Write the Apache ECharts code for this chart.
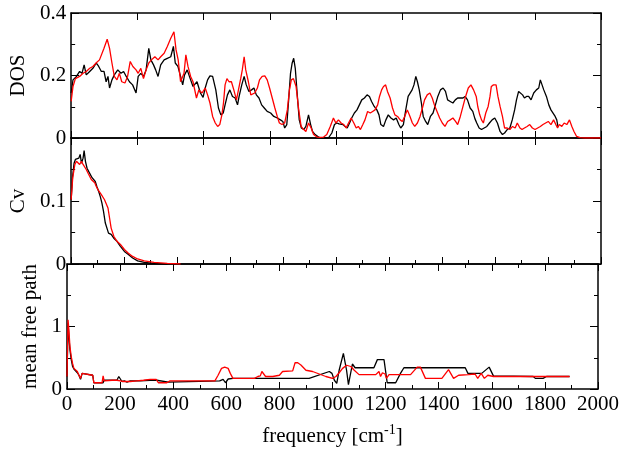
<!DOCTYPE html>
<html><head><meta charset="utf-8">
<script src="https://cdn.jsdelivr.net/npm/echarts@6/dist/echarts.min.js"></script>
<style>html,body{margin:0;padding:0;background:#fff}#c{width:622px;height:449px}</style>
</head><body><div id="c"></div>
<script>
// ---- data (frequency [cm^-1], value) ----
var dosBlack = [[0,0.144],[7,0.186],[20,0.197],[32,0.213],[41,0.207],[49,0.234],[57,0.202],[70,0.213],[82,0.223],[95,0.24],[104,0.229],[114,0.213],[124,0.213],[132,0.18],[139,0.197],[145,0.16],[154,0.186],[163,0.202],[176,0.218],[188,0.207],[198,0.213],[208,0.197],[220,0.18],[232,0.17],[245,0.144],[253,0.197],[263,0.207],[273,0.197],[283,0.218],[293,0.287],[301,0.25],[311,0.234],[319,0.218],[328,0.197],[338,0.234],[351,0.25],[363,0.255],[376,0.26],[386,0.293],[393,0.24],[403,0.229],[413,0.197],[421,0.17],[428,0.202],[438,0.218],[451,0.186],[460,0.165],[475,0.18],[488,0.144],[498,0.13],[506,0.16],[515,0.186],[524,0.199],[534,0.197],[540,0.199],[546,0.154],[556,0.096],[565,0.074],[574,0.08],[581,0.106],[590,0.138],[599,0.154],[609,0.133],[619,0.128],[628,0.106],[634,0.133],[644,0.17],[653,0.197],[661,0.17],[671,0.149],[681,0.154],[690,0.16],[699,0.138],[709,0.128],[719,0.106],[729,0.096],[740,0.085],[753,0.08],[765,0.069],[778,0.064],[790,0.058],[799,0.053],[806,0.032],[814,0.043],[821,0.122],[828,0.207],[834,0.239],[840,0.255],[846,0.223],[854,0.133],[861,0.058],[869,0.032],[878,0.027],[886,0.037],[896,0.074],[904,0.043],[911,0.021],[921,0.011],[934,0.003],[946,0],[959,0],[971,0],[984,0.016],[994,0.043],[1003,0.048],[1011,0.045],[1017,0.048],[1026,0.043],[1034,0.037],[1042,0.032],[1051,0.048],[1059,0.064],[1069,0.08],[1079,0.09],[1088,0.106],[1097,0.122],[1107,0.128],[1117,0.138],[1126,0.133],[1134,0.117],[1144,0.101],[1154,0.09],[1162,0.074],[1169,0.043],[1179,0.037],[1188,0.058],[1197,0.074],[1207,0.064],[1217,0.058],[1227,0.064],[1237,0.043],[1244,0.032],[1254,0.043],[1263,0.09],[1272,0.133],[1279,0.128],[1287,0.154],[1294,0.17],[1301,0.197],[1307,0.18],[1314,0.154],[1322,0.112],[1329,0.069],[1338,0.053],[1346,0.043],[1356,0.069],[1366,0.08],[1375,0.106],[1384,0.133],[1394,0.154],[1404,0.16],[1413,0.149],[1421,0.122],[1431,0.117],[1441,0.112],[1450,0.122],[1459,0.128],[1469,0.128],[1479,0.128],[1487,0.133],[1496,0.122],[1506,0.096],[1516,0.085],[1524,0.062],[1531,0.048],[1540,0.032],[1549,0.027],[1559,0.032],[1569,0.037],[1579,0.048],[1589,0.058],[1599,0.064],[1609,0.048],[1619,0.021],[1628,0.011],[1636,0.016],[1646,0.027],[1656,0.032],[1665,0.058],[1674,0.09],[1681,0.122],[1689,0.149],[1696,0.149],[1704,0.138],[1711,0.128],[1719,0.133],[1727,0.133],[1736,0.122],[1746,0.144],[1756,0.154],[1765,0.16],[1771,0.186],[1777,0.181],[1784,0.154],[1794,0.133],[1803,0.106],[1811,0.09],[1818,0.085],[1827,0.069],[1833,0.058],[1838,0.035]];
var dosRed = [[0,0.117],[7,0.165],[16,0.19],[32,0.197],[45,0.207],[57,0.213],[70,0.223],[82,0.229],[95,0.241],[107,0.25],[114,0.245],[124,0.287],[136,0.316],[145,0.287],[154,0.24],[163,0.197],[173,0.186],[182,0.207],[191,0.18],[203,0.176],[213,0.197],[223,0.245],[233,0.229],[245,0.218],[253,0.207],[263,0.223],[273,0.19],[283,0.218],[293,0.24],[303,0.25],[316,0.26],[328,0.25],[338,0.26],[351,0.271],[363,0.293],[376,0.319],[383,0.324],[388,0.34],[396,0.282],[404,0.25],[413,0.18],[426,0.207],[433,0.266],[441,0.229],[451,0.197],[460,0.18],[473,0.128],[482,0.154],[494,0.144],[506,0.16],[515,0.138],[524,0.112],[534,0.069],[544,0.048],[553,0.037],[561,0.043],[569,0.074],[575,0.112],[581,0.17],[588,0.19],[596,0.18],[605,0.18],[614,0.154],[624,0.122],[631,0.122],[640,0.19],[646,0.218],[653,0.26],[659,0.218],[669,0.18],[678,0.138],[685,0.133],[693,0.144],[703,0.16],[711,0.186],[721,0.197],[731,0.199],[740,0.186],[749,0.16],[759,0.128],[769,0.096],[778,0.069],[786,0.048],[796,0.043],[806,0.048],[816,0.09],[824,0.154],[831,0.186],[839,0.19],[849,0.165],[859,0.09],[868,0.037],[878,0.027],[886,0.021],[896,0.048],[906,0.032],[915,0.011],[928,0.003],[940,0.002],[953,0.003],[965,0.011],[978,0.037],[990,0.064],[999,0.048],[1009,0.058],[1019,0.048],[1029,0.043],[1038,0.032],[1047,0.048],[1057,0.064],[1067,0.048],[1076,0.032],[1084,0.037],[1092,0.027],[1101,0.043],[1109,0.058],[1119,0.085],[1129,0.08],[1138,0.085],[1147,0.09],[1157,0.106],[1164,0.133],[1172,0.154],[1179,0.165],[1187,0.17],[1194,0.149],[1204,0.128],[1213,0.096],[1222,0.074],[1232,0.069],[1242,0.058],[1250,0.053],[1259,0.069],[1269,0.09],[1279,0.069],[1288,0.048],[1297,0.037],[1307,0.048],[1317,0.069],[1326,0.096],[1334,0.122],[1344,0.138],[1354,0.144],[1363,0.128],[1371,0.106],[1381,0.085],[1391,0.064],[1401,0.048],[1411,0.037],[1421,0.053],[1431,0.058],[1441,0.064],[1451,0.053],[1459,0.043],[1469,0.069],[1479,0.101],[1489,0.133],[1499,0.16],[1509,0.17],[1519,0.154],[1529,0.133],[1535,0.1],[1542,0.075],[1549,0.058],[1556,0.048],[1565,0.08],[1574,0.101],[1581,0.133],[1586,0.165],[1594,0.17],[1599,0.165],[1604,0.17],[1611,0.133],[1619,0.101],[1628,0.069],[1636,0.032],[1646,0.032],[1656,0.027],[1666,0.037],[1676,0.032],[1684,0.048],[1694,0.032],[1702,0.027],[1711,0.032],[1721,0.037],[1731,0.043],[1741,0.032],[1751,0.027],[1761,0.032],[1771,0.037],[1781,0.043],[1791,0.048],[1801,0.053],[1811,0.043],[1821,0.058],[1828,0.064],[1836,0.032],[1843,0.043],[1852,0.037],[1861,0.048],[1871,0.043],[1881,0.058],[1890,0.037],[1898,0.021],[1908,0.005],[1921,0.001],[1940,0],[2000,0]];
var cvBlack = [[0,0.102],[5,0.137],[11,0.16],[16,0.166],[22,0.166],[29,0.168],[34,0.174],[39,0.16],[45,0.168],[49,0.18],[54,0.163],[60,0.152],[66,0.147],[72,0.144],[79,0.137],[85,0.134],[91,0.131],[97,0.123],[104,0.115],[110,0.107],[116,0.097],[122,0.084],[129,0.065],[135,0.062],[141,0.049],[151,0.047],[161,0.041],[173,0.036],[186,0.028],[201,0.02],[216,0.015],[232,0.0095],[251,0.005],[276,0.0026],[313,0.001],[363,0]];
var cvRed = [[0,0.102],[6,0.137],[14,0.158],[20,0.163],[26,0.16],[32,0.158],[39,0.163],[45,0.158],[51,0.16],[57,0.15],[64,0.144],[70,0.142],[76,0.134],[82,0.131],[89,0.129],[95,0.123],[101,0.118],[107,0.115],[114,0.11],[120,0.113],[126,0.102],[132,0.099],[139,0.089],[145,0.073],[151,0.057],[161,0.044],[173,0.036],[186,0.031],[201,0.023],[216,0.017],[232,0.012],[251,0.008],[276,0.005],[313,0.0026],[363,0.001],[413,0]];
var mfpBlack = [[0,0.2],[4,1.05],[7,0.84],[11,0.63],[16,0.47],[21,0.36],[26,0.32],[32,0.29],[39,0.26],[45,0.22],[51,0.155],[57,0.25],[64,0.22],[97,0.22],[101,0.1],[136,0.1],[140,0.14],[188,0.14],[195,0.2],[201,0.19],[207,0.12],[216,0.13],[226,0.11],[238,0.13],[276,0.13],[313,0.14],[338,0.14],[344,0.11],[382,0.11],[388,0.13],[575,0.13],[588,0.155],[597,0.1],[607,0.16],[625,0.17],[912,0.17],[988,0.28],[998,0.25],[1007,0.14],[1016,0.09],[1025,0.3],[1041,0.57],[1053,0.3],[1060,0.07],[1075,0.4],[1085,0.34],[1156,0.34],[1169,0.47],[1194,0.47],[1206,0.1],[1238,0.1],[1256,0.25],[1269,0.34],[1500,0.34],[1510,0.25],[1562,0.25],[1590,0.35],[1606,0.21],[1756,0.2],[1764,0.17],[1793,0.17],[1806,0.2],[1893,0.2]];
var mfpRed = [[0,0.2],[4,1.107],[7,0.95],[11,0.68],[16,0.52],[21,0.41],[26,0.33],[32,0.3],[39,0.28],[45,0.22],[51,0.17],[57,0.25],[64,0.22],[97,0.22],[101,0.1],[132,0.1],[136,0.21],[140,0.13],[145,0.14],[170,0.14],[176,0.12],[188,0.14],[201,0.13],[213,0.12],[238,0.12],[263,0.13],[288,0.14],[313,0.155],[336,0.155],[344,0.1],[376,0.1],[388,0.13],[557,0.13],[569,0.22],[582,0.33],[594,0.35],[607,0.33],[615,0.25],[625,0.17],[706,0.17],[719,0.2],[728,0.21],[734,0.28],[741,0.28],[748,0.2],[775,0.2],[800,0.22],[812,0.28],[850,0.29],[859,0.42],[869,0.42],[881,0.385],[900,0.3],[925,0.28],[950,0.24],[975,0.2],[1000,0.17],[1013,0.2],[1025,0.26],[1038,0.33],[1053,0.38],[1069,0.36],[1082,0.3],[1100,0.23],[1163,0.23],[1169,0.2],[1175,0.28],[1181,0.2],[1188,0.26],[1198,0.24],[1203,0.17],[1213,0.23],[1294,0.23],[1319,0.35],[1331,0.35],[1350,0.17],[1412,0.17],[1437,0.31],[1456,0.17],[1475,0.22],[1512,0.23],[1537,0.24],[1547,0.17],[1560,0.25],[1572,0.17],[1585,0.22],[1606,0.2],[1893,0.2]];
var panelNames = ['DOS', 'Cv', 'mean free path'];
var xAxisName = 'frequency [cm';

// ---- chart ----
var FONT = 'Liberation Serif';
var grids = [
  {left: 67, right: 21, top: 13, height: 125},
  {left: 67, right: 21, top: 138, height: 126},
  {left: 67, right: 21, top: 264, height: 125}
];
function fmt(v) { return String(+(+v).toFixed(4)); }
function xAx(grid, pos, interval, minor, labels) {
  return {
    type: 'value', gridIndex: grid, position: pos, min: 0, max: 2000, interval: interval,
    axisLine: {show: true, onZero: false, lineStyle: {color: '#000', width: 1.5}},
    axisTick: {show: true, inside: true, length: 7, lineStyle: {color: '#000', width: 1}},
    minorTick: {show: minor, splitNumber: 2, length: 4, lineStyle: {color: '#000', width: 1}},
    splitLine: {show: false},
    axisLabel: labels ? {show: true, margin: 5, color: '#000', fontFamily: FONT, fontSize: 21, formatter: fmt} : {show: false}
  };
}
function yAx(grid, pos, max, interval, labels, name, gap, hideMax) {
  var a = {
    type: 'value', gridIndex: grid, position: pos, min: 0, max: max, interval: interval,
    axisLine: {show: true, onZero: false, lineStyle: {color: '#000', width: 1.5}},
    axisTick: {show: true, inside: true, length: 8, lineStyle: {color: '#000', width: 1}},
    minorTick: {show: true, splitNumber: 2, length: 4, lineStyle: {color: '#000', width: 1}},
    splitLine: {show: false},
    axisLabel: labels ? {show: true, margin: 5, color: '#000', fontFamily: FONT, fontSize: 21, showMaxLabel: !hideMax, formatter: fmt} : {show: false}
  };
  if (name) {
    a.name = name; a.nameLocation = 'middle'; a.nameGap = gap;
    a.nameTextStyle = {color: '#000', fontFamily: FONT, fontSize: 21};
  }
  return a;
}
var xAxes = [
  xAx(0, 'bottom', 250, false, false), xAx(0, 'top', 250, false, false),
  xAx(1, 'bottom', 200, true, false), xAx(1, 'top', 250, false, false),
  xAx(2, 'bottom', 200, true, true), xAx(2, 'top', 200, true, false)
];
xAxes[4].name = xAxisName + '{sup|-1}]';
xAxes[4].nameLocation = 'middle';
xAxes[4].nameGap = 34;
xAxes[4].nameTextStyle = {color: '#000', fontFamily: FONT, fontSize: 21,
  rich: {sup: {fontFamily: FONT, fontSize: 14, verticalAlign: 'top', padding: [0, 0, 12, 0], color: '#000'}}};
var yAxes = [
  yAx(0, 'left', 0.4, 0.2, true, panelNames[0], 35, false), yAx(0, 'right', 0.4, 0.2, false),
  yAx(1, 'left', 0.2, 0.1, true, panelNames[1], 35, true), yAx(1, 'right', 0.2, 0.1, false),
  yAx(2, 'left', 2, 1, true, panelNames[2], 22, true), yAx(2, 'right', 2, 1, false)
];
function ser(data, xi, yi, color) {
  return {type: 'line', data: data, xAxisIndex: xi, yAxisIndex: yi, showSymbol: false, symbol: 'none',
    lineStyle: {color: color, width: 1.3}, itemStyle: {color: color}, animation: false, silent: true};
}
var chart = echarts.init(document.getElementById('c'), null, {renderer: 'canvas'});
chart.setOption({
  backgroundColor: '#fff',
  animation: false,
  grid: grids,
  xAxis: xAxes,
  yAxis: yAxes,
  series: [
    ser(dosBlack, 0, 0, '#000'), ser(dosRed, 0, 0, '#ff0000'),
    ser(cvBlack, 2, 2, '#000'), ser(cvRed, 2, 2, '#ff0000'),
    ser(mfpBlack, 4, 4, '#000'), ser(mfpRed, 4, 4, '#ff0000')
  ]
});
</script>
</body></html>
